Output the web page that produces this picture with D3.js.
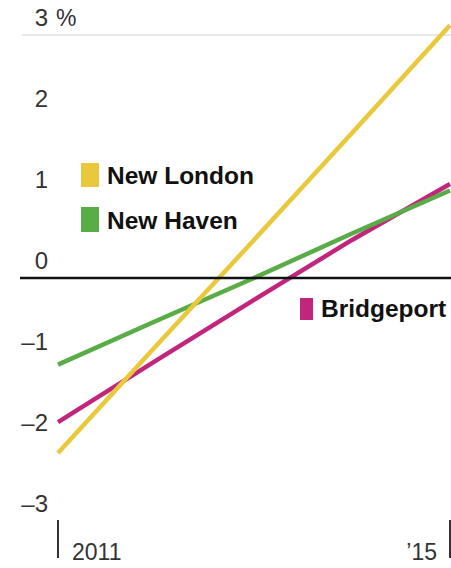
<!DOCTYPE html>
<html>
<head>
<meta charset="utf-8">
<script src="https://cdn.jsdelivr.net/npm/d3@7"></script>
<style>
  body { margin: 0; background: #fff; }
  svg { display: block; }
  .tick-label { font-family: "Liberation Sans", Arial, sans-serif; fill: #333; }
  .legend-label { font-family: "Liberation Sans", Arial, sans-serif; font-weight: bold; fill: #111; }
</style>
</head>
<body>
<svg id="vis" width="451" height="568"></svg>
<script>
// yearly change, percent
const years = [2011, 2012, 2013, 2014, 2015];
const newLondon = [-2.16, -0.84, 0.47, 1.79, 3.12];
const newHaven = [-1.07, -0.53, 0.0, 0.55, 1.08];
const bridgeport = [-1.78, -1.02, -0.27, 0.47, 1.16];

const yTicks = [3, 2, 1, 0, -1, -2, -3];
const xTicks = [2011, 2015];
const xTickLabels = ["2011", "\u201915"];

const series = [
    {name: "Bridgeport", values: bridgeport, color: "#c1267c"},
    {name: "New Haven", values: newHaven, color: "#5aac47"},
    {name: "New London", values: newLondon, color: "#e9c83c"}
];

const svg = d3.select('#vis');
const WIDTH = 451;

const x = d3.scaleLinear().domain([2011, 2015]).range([58, 450]);
const y = d3.scaleLinear().domain([-3, 3]).range([521, 35]);

// top gridline
svg.append("line")
    .attr("x1", 22).attr("x2", WIDTH)
    .attr("y1", y(3)).attr("y2", y(3))
    .attr("stroke", "#cfcfcf")
    .attr("stroke-width", 1.2);

// y labels, sitting above their lines
svg.selectAll(".ylab")
    .data(yTicks)
    .enter().append("text")
    .attr("class", "tick-label")
    .attr("x", 48)
    .attr("y", function (d) { return y(d) - 9; })
    .attr("text-anchor", "end")
    .style("font-size", "24px")
    .text(function (d) { return d < 0 ? "\u2013" + Math.abs(d) : d; });

svg.append("text")
    .attr("class", "tick-label")
    .attr("x", 56)
    .attr("y", y(3) - 9)
    .style("font-size", "23px")
    .text("%");

// lines
var line = d3.line()
    .x(function (d, i) { return x(years[i]); })
    .y(function (d) { return y(d); });

svg.selectAll(".series")
    .data(series)
    .enter().append("path")
    .attr("class", "series")
    .attr("fill", "none")
    .attr("stroke", function (d) { return d.color; })
    .attr("stroke-width", 4.5)
    .attr("d", function (d) { return line(d.values); });

// zero line
svg.append("line")
    .attr("x1", 20).attr("x2", WIDTH)
    .attr("y1", y(0)).attr("y2", y(0))
    .attr("stroke", "#111")
    .attr("stroke-width", 2.5);

// x axis ticks
svg.selectAll(".xtick")
    .data(xTicks)
    .enter().append("line")
    .attr("x1", function (d) { return x(d); })
    .attr("x2", function (d) { return x(d); })
    .attr("y1", 520).attr("y2", 558)
    .attr("stroke", "#333")
    .attr("stroke-width", 2);

svg.selectAll(".xlab")
    .data(xTicks)
    .enter().append("text")
    .attr("class", "tick-label")
    .attr("x", function (d, i) { return i === 0 ? x(d) + 14 : x(d) - 13; })
    .attr("y", 560)
    .attr("text-anchor", function (d, i) { return i === 0 ? "start" : "end"; })
    .style("font-size", "23px")
    .text(function (d, i) { return xTickLabels[i]; });

// legend
const legend = [
    {name: "New London", color: "#e9c83c", x: 81, y: 163, w: 18, h: 24},
    {name: "New Haven", color: "#5aac47", x: 81, y: 207, w: 18, h: 25},
    {name: "Bridgeport", color: "#c1267c", x: 300, y: 298, w: 13, h: 22}
];

var leg = svg.selectAll(".legend")
    .data(legend)
    .enter().append("g")
    .attr("class", "legend");

leg.append("rect")
    .attr("x", function (d) { return d.x; })
    .attr("y", function (d) { return d.y; })
    .attr("width", function (d) { return d.w; })
    .attr("height", function (d) { return d.h; })
    .attr("fill", function (d) { return d.color; });

leg.append("text")
    .attr("class", "legend-label")
    .attr("x", function (d) { return d.x + d.w + 8; })
    .attr("y", function (d) { return d.y + d.h - 3; })
    .style("font-size", "24.5px")
    .text(function (d) { return d.name; });
</script>
</body>
</html>
